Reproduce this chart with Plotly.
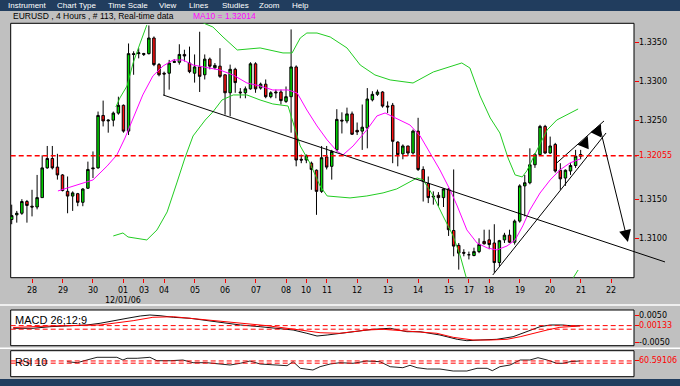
import plotly.graph_objects as go

# ---------------- data ----------------
candle_index = list(range(113))
candle_open = [1.3124,1.3130,1.3132,1.3147,1.3141,1.3140,1.3152,1.3190,1.3202,1.3191,
               1.3181,1.3160,1.3154,1.3157,1.3146,1.3164,1.3190,1.3190,1.3257,1.3250,
               1.3251,1.3260,1.3270,1.3237,1.3336,1.3336,1.3335,1.3336,1.3356,1.3322,
               1.3311,1.3311,1.3326,1.3325,1.3335,1.3324,1.3311,1.3319,1.3309,1.3329,
               1.3318,1.3320,1.3309,1.3286,1.3316,1.3287,1.3286,1.3291,1.3323,1.3292,
               1.3297,1.3281,1.3287,1.3287,1.3275,1.3281,1.3319,1.3201,1.3200,1.3196,
               1.3187,1.3160,1.3204,1.3192,1.3213,1.3251,1.3250,1.3259,1.3238,1.3237,
               1.3241,1.3277,1.3284,1.3287,1.3269,1.3270,1.3223,1.3208,1.3218,1.3209,
               1.3237,1.3188,1.3170,1.3154,1.3155,1.3152,1.3163,1.3110,1.3091,1.3082,
               1.3079,1.3078,1.3083,1.3096,1.3098,1.3094,1.3069,1.3098,1.3104,1.3095,
               1.3122,1.3167,1.3171,1.3194,1.3207,1.3243,1.3209,1.3220,1.3187,1.3177,
               1.3186,1.3193,1.3205]
candle_high = [1.3143,1.3135,1.3150,1.3149,1.3162,1.3181,1.3206,1.3218,1.3218,1.3208,
               1.3182,1.3179,1.3160,1.3158,1.3164,1.3198,1.3211,1.3262,1.3276,1.3252,
               1.3262,1.3281,1.3271,1.3349,1.3339,1.3343,1.3337,1.3372,1.3358,1.3324,
               1.3313,1.3328,1.3329,1.3348,1.3341,1.3345,1.3335,1.3364,1.3335,1.3331,
               1.3324,1.3343,1.3309,1.3322,1.3318,1.3292,1.3294,1.3325,1.3325,1.3299,
               1.3303,1.3288,1.3290,1.3290,1.3294,1.3367,1.3321,1.3207,1.3207,1.3198,
               1.3188,1.3218,1.3218,1.3213,1.3265,1.3261,1.3267,1.3262,1.3248,1.3271,
               1.3292,1.3288,1.3290,1.3288,1.3275,1.3273,1.3224,1.3220,1.3218,1.3239,
               1.3254,1.3192,1.3179,1.3160,1.3159,1.3164,1.3164,1.3188,1.3094,1.3086,
               1.3083,1.3088,1.3100,1.3111,1.3111,1.3118,1.3098,1.3107,1.3111,1.3124,
               1.3169,1.3181,1.3215,1.3209,1.3245,1.3245,1.3230,1.3222,1.3196,1.3188,
               1.3196,1.3213,1.3213]
candle_low = [1.3118,1.3120,1.3130,1.3120,1.3128,1.3137,1.3152,1.3189,1.3188,1.3175,
              1.3160,1.3132,1.3135,1.3141,1.3141,1.3163,1.3177,1.3189,1.3243,1.3235,
              1.3243,1.3258,1.3235,1.3232,1.3309,1.3330,1.3333,1.3335,1.3320,1.3307,
              1.3283,1.3290,1.3324,1.3322,1.3326,1.3311,1.3299,1.3287,1.3303,1.3316,
              1.3316,1.3305,1.3258,1.3256,1.3286,1.3279,1.3279,1.3290,1.3286,1.3290,
              1.3279,1.3279,1.3279,1.3271,1.3273,1.3235,1.3192,1.3196,1.3196,1.3162,
              1.3130,1.3158,1.3188,1.3175,1.3211,1.3234,1.3247,1.3232,1.3232,1.3213,
              1.3215,1.3275,1.3282,1.3267,1.3260,1.3196,1.3192,1.3201,1.3205,1.3207,
              1.3186,1.3147,1.3145,1.3143,1.3141,1.3140,1.3103,1.3077,1.3060,1.3077,
              1.3073,1.3077,1.3081,1.3092,1.3086,1.3056,1.3064,1.3094,1.3094,1.3092,
              1.3120,1.3128,1.3169,1.3190,1.3206,1.3208,1.3208,1.3184,1.3162,1.3167,
              1.3181,1.3190,1.3201]
candle_close = [1.3129,1.3132,1.3147,1.3142,1.3140,1.3152,1.3190,1.3202,1.3190,1.3181,
                1.3161,1.3154,1.3158,1.3146,1.3163,1.3188,1.3189,1.3257,1.3250,1.3251,
                1.3260,1.3270,1.3237,1.3336,1.3335,1.3337,1.3336,1.3356,1.3322,1.3309,
                1.3310,1.3324,1.3325,1.3335,1.3333,1.3313,1.3319,1.3307,1.3329,1.3320,
                1.3321,1.3307,1.3286,1.3316,1.3299,1.3286,1.3291,1.3323,1.3291,1.3297,
                1.3281,1.3286,1.3286,1.3276,1.3281,1.3319,1.3200,1.3200,1.3206,1.3188,
                1.3160,1.3203,1.3191,1.3211,1.3252,1.3250,1.3259,1.3233,1.3236,1.3242,
                1.3278,1.3284,1.3287,1.3269,1.3268,1.3224,1.3207,1.3218,1.3209,1.3237,
                1.3188,1.3173,1.3152,1.3153,1.3152,1.3163,1.3111,1.3090,1.3081,1.3081,
                1.3079,1.3083,1.3092,1.3093,1.3092,1.3069,1.3097,1.3104,1.3095,1.3122,
                1.3167,1.3171,1.3194,1.3207,1.3243,1.3209,1.3218,1.3186,1.3176,1.3187,
                1.3193,1.3205,1.3207]

day_tick_index = [4, 10, 16, 22, 26, 30, 36, 42, 48, 54, 58, 62, 68, 74, 80, 86, 90, 94, 100, 106, 112, 118]
day_tick_label = ["28", "29", "30", "01", "03", "04", "05", "06", "07", "08", "10", "11",
                  "12", "13", "14", "15", "17", "18", "19", "20", "21", "22"]
date_label_index = 22
date_label = "12/01/06"

ma_index = [9.1, 12.9, 16.0, 18.8, 20.7, 22.3, 23.9, 25.8, 27.8, 29.8, 31.8, 33.7, 35.7, 37.7, 41.0,
            43.6, 46.3, 48.9, 51.4, 54.4, 56.2, 58.1, 60.1, 62.1, 64.0, 65.2, 67.2, 69.9, 71.9, 73.5,
            75.5, 78.4, 80.4, 82.3, 84.3, 86.3, 87.7, 89.6, 91.6, 93.6, 95.5, 97.5, 99.1, 100.6, 102.0,
            104.0, 106.0, 107.9, 109.9, 111.9]
ma_value = [1.31605, 1.31682, 1.31746, 1.31925, 1.32065, 1.32282, 1.32538, 1.32832, 1.33075, 1.33203,
            1.33279, 1.33279, 1.33215, 1.33190, 1.33151, 1.33087, 1.32985, 1.32947, 1.32896, 1.32896,
            1.32857, 1.32640, 1.32436, 1.32257, 1.32116, 1.32065, 1.32180, 1.32385, 1.32564, 1.32602,
            1.32538, 1.32448, 1.32308, 1.32091, 1.31873, 1.31618, 1.31413, 1.31107, 1.30940, 1.30877,
            1.30851, 1.30902, 1.30979, 1.31158, 1.31362, 1.31579, 1.31746, 1.31873, 1.31963, 1.32014]

bb_upper_index = [20.5, 21.3, 22.7, 23.9, 25.3, 26.6, None, 37.7, 39.6, 41.6, 44.4, 48.9, 53.4, 55.2,
                  56.8, 58.1, 60.1, 62.7, 66.0, 68.6, 71.5, 74.5, 79.0, 83.0, 86.3, 88.6, 90.2, 92.2,
                  94.2, 96.1, 97.7, 99.1, 100.5, 101.4, 103.4, 105.4, 107.3, 109.3, 111.5]
bb_upper_value = [1.32679, 1.32794, 1.32947, 1.33241, 1.33497, 1.33727, None, 1.33752, 1.33701, 1.33573,
                  1.33407, 1.33433, 1.33369, 1.33369, 1.33560, 1.33624, 1.33624, 1.33573, 1.33433,
                  1.33215, 1.33088, 1.33024, 1.32985, 1.33126, 1.33190, 1.33241, 1.33177, 1.32819,
                  1.32538, 1.32346, 1.32027, 1.31810, 1.31784, 1.31861, 1.32129, 1.32385, 1.32512,
                  1.32576, 1.32653]
bb_lower_index = [20.0, 21.9, 22.9, 26.6, 28.6, 30.6, 32.5, 34.1, 35.7, 38.1, 39.6, 41.4, 43.6, 46.3,
                  48.9, 51.4, 54.4, 55.4, 56.8, 58.7, 60.7, 62.1, 66.6, 69.9, 73.1, 75.8, 78.4, 79.8,
                  81.0, 83.0, 84.9, 86.9, 88.3, 89.6, None, 110.2, 111.5]
bb_lower_value = [1.31030, 1.31068, 1.31017, 1.30979, 1.31107, 1.31337, 1.31707, 1.32027, 1.32308,
                  1.32512, 1.32615, 1.32768, 1.32832, 1.32832, 1.32768, 1.32717, 1.32691, 1.32474,
                  1.32180, 1.31963, 1.31669, 1.31541, 1.31516, 1.31541, 1.31580, 1.31631, 1.31720,
                  1.31771, 1.31746, 1.31541, 1.31286, 1.31030, 1.30774, 1.30468, None, 1.30460, 1.30595]

macd_index = [0.3, 4.2, 7.5, 10.9, 14.8, 17.4, 19.4, 22.7, 25.3, 27.2, 29.2, 31.8, 35.1, 38.4, 42.4,
              45.0, 48.9, 52.8, 55.4, 58.1, 60.1, 62.1, 64.6, 68.0, 71.1, 74.5, 77.8, 80.4, 84.3, 87.7,
              89.6, 92.2, 95.5, 98.7, 101.4, 104.0, 106.0, 108.5, 110.5, 111.9]
macd_value = [0.00033, 0.00033, 0.00093, 0.00119, 0.00156, 0.00219, 0.00278, 0.00404, 0.00489, 0.00526,
              0.00500, 0.00441, 0.00404, 0.00315, 0.00219, 0.00156, 0.00093, 0.00033, -0.00030, -0.00152,
              -0.00252, -0.00215, -0.00152, -0.00093, -0.00004, 0.00033, -0.00093, -0.00093, -0.00215,
              -0.00374, -0.00426, -0.00400, -0.00374, -0.00278, -0.00093, 0.00093, 0.00156, 0.00156,
              0.00119, 0.00133]
signal_index = [0.3, 7.5, 17.4, 23.9, 27.8, 31.8, 37.1, 43.6, 50.3, 56.8, 60.7, 64.6, 69.9, 73.1, 76.4,
                80.4, 83.7, 86.9, 90.8, 94.2, 97.5, 100.1, 102.6, 105.4, 107.9, 110.5, 111.9]
signal_value = [0.00063, 0.00119, 0.00156, 0.00315, 0.00441, 0.00463, 0.00367, 0.00241, 0.00130,
                -0.00030, -0.00130, -0.00152, -0.00030, -0.00004, -0.00056, -0.00093, -0.00152,
                -0.00300, -0.00400, -0.00400, -0.00374, -0.00278, -0.00152, -0.00030, 0.00070,
                0.00119, 0.00119]

rsi_index = [10.9, 12.9, 14.8, 16.8, 20.7, 21.9, 22.7, 24.7, 27.2, 28.6, 31.2, 33.7, 35.7, 38.4, 41.0,
             43.0, 45.0, 46.9, 48.9, 51.4, 54.2, 55.4, 56.8, 59.3, 60.7, 62.7, 64.6, 67.2, 69.9, 72.5,
             74.5, 77.0, 78.4, 79.8, 81.8, 84.3, 86.9, 89.6, 91.6, 93.6, 94.6, 96.1, 98.1, 100.1, 102.0,
             103.6, 105.4, 107.3, 108.5, 109.9, 111.9]
rsi_value = [57.7, 53.8, 64.2, 74.6, 74.6, 64.2, 70.8, 70.8, 74.6, 61.5, 61.5, 64.2, 53.8, 53.8, 48.8,
             45.0, 51.5, 60.4, 48.8, 45.0, 42.3, 57.7, 32.3, 25.8, 38.5, 48.8, 53.8, 51.5, 60.4, 57.7,
             38.5, 34.6, 43.8, 34.6, 29.6, 29.6, 21.9, 21.9, 32.3, 32.3, 23.1, 38.5, 45.0, 64.2, 64.2,
             73.1, 64.2, 51.5, 51.5, 57.7, 60.6]

price_tick_values = [1.3100, 1.3150, 1.32055, 1.3250, 1.3300, 1.3350]
price_tick_labels = ["1.3100", "1.3150", "1.32055", "1.3250", "1.3300", "1.3350"]
last_price_level = 1.32055
macd_tick_values = [0.0050, 0.00133, -0.0050]
macd_tick_labels = ["0.0050", "0.00133", "-0.0050"]
macd_levels = [0.00133, 0.0]
rsi_tick_values = [60.59106]
rsi_tick_labels = ["60.59106"]
rsi_levels = [60.59106, 52.0]

# user-drawn studies (candle index, price)
trend_down_index = [29.8, 128.6]
trend_down_price = [1.32832, 1.30698]
trend_up_index = [94.7, 117.0]
trend_up_price = [1.30531, 1.32346]
channel_index = [107.3, 116.6]
channel_price = [1.31963, 1.32500]
projection_from = (115.8, 1.32410)
projection_to = (121.3, 1.30953)
small_arrows = [((112.5, 1.32167), (113.4, 1.32308)), ((115.0, 1.32321), (116.0, 1.32461))]

menu_items = ["Instrument", "Chart Type", "Time Scale", "View", "Lines", "Studies", "Zoom", "Help"]
menu_x_px = [7, 56, 107, 158, 188, 221, 258, 291]

# ---------------- geometry / calibration ----------------
W, H = 680, 386
def fx(px): return px / W
def fy(py): return 1 - py / H

X0_PX, X_STEP = 11.7, 5.08          # centre of candle 0, px per candle
def idx_at(px): return (px - X0_PX) / X_STEP
def price_at(py): return 1.3350 + (py - 42.7) * (1.3100 - 1.3350) / (238.3 - 42.7)
def macd_at(py): return 0.0050 + (py - 315.7) * (-0.0100) / (342.7 - 315.7)

ML, MR = 10.7, 634.0
MAIN_T, MAIN_B = 23.3, 277.7
MACD_T, MACD_B = 310.0, 345.7
RSI_T, RSI_B = 350.7, 376.7
LABEL_X = 637.5

FONT = "Liberation Sans, Arial, sans-serif"
TICKFONT = "DejaVu Sans, sans-serif"
RED = "#ff0000"

fig = go.Figure()

fig.add_trace(go.Candlestick(
    x=candle_index, open=candle_open, high=candle_high, low=candle_low, close=candle_close,
    increasing=dict(line=dict(color="black", width=1), fillcolor="#00dd00"),
    decreasing=dict(line=dict(color="black", width=1), fillcolor="#ff1010"),
    whiskerwidth=0, xaxis="x", yaxis="y", hoverinfo="skip"))
fig.add_trace(go.Scatter(x=bb_upper_index, y=bb_upper_value, mode="lines",
                         line=dict(color="#22cc22", width=1), xaxis="x", yaxis="y", connectgaps=False))
fig.add_trace(go.Scatter(x=bb_lower_index, y=bb_lower_value, mode="lines",
                         line=dict(color="#22cc22", width=1), xaxis="x", yaxis="y", connectgaps=False))
fig.add_trace(go.Scatter(x=ma_index, y=ma_value, mode="lines",
                         line=dict(color="#ff00ff", width=1), xaxis="x", yaxis="y"))

fig.add_trace(go.Scatter(x=macd_index, y=macd_value, mode="lines",
                         line=dict(color="#111111", width=1), xaxis="x2", yaxis="y2"))
fig.add_trace(go.Scatter(x=signal_index, y=signal_value, mode="lines",
                         line=dict(color="#ff0000", width=1), xaxis="x2", yaxis="y2"))
fig.add_trace(go.Scatter(x=rsi_index, y=rsi_value, mode="lines",
                         line=dict(color="#222222", width=1), xaxis="x3", yaxis="y3"))

# trendlines on a full-window overlay so they may run past the chart frame
for xs, ys in [(trend_down_index, trend_down_price), (trend_up_index, trend_up_price),
               (channel_index, channel_price)]:
    fig.add_trace(go.Scatter(x=xs, y=ys, mode="lines", line=dict(color="black", width=1),
                             xaxis="x4", yaxis="y4"))

shapes = []
# chrome
shapes.append(dict(type="rect", xref="paper", yref="paper", x0=0, x1=1, y0=fy(11), y1=1,
                   fillcolor="#213d5e", line=dict(width=0), layer="below"))
shapes.append(dict(type="rect", xref="paper", yref="paper", x0=0, x1=1, y0=0, y1=fy(379),
                   fillcolor="#213d5e", line=dict(width=0), layer="below"))
for yy in (305.0, 348.3):
    shapes.append(dict(type="line", xref="paper", yref="paper", x0=0, x1=1, y0=fy(yy), y1=fy(yy),
                       line=dict(color="white", width=1.5), layer="below"))
for t, b in ((MAIN_T, MAIN_B), (MACD_T, MACD_B), (RSI_T, RSI_B)):
    shapes.append(dict(type="rect", xref="paper", yref="paper", x0=fx(ML), x1=fx(MR), y0=fy(b), y1=fy(t),
                       fillcolor="white", line=dict(color="black", width=1), layer="below"))
# level lines
shapes.append(dict(type="line", xref="paper", yref="y", x0=fx(ML), x1=fx(MR + 3),
                   y0=last_price_level, y1=last_price_level,
                   line=dict(color=RED, width=1.5, dash="5px,3px")))
for lv in macd_levels:
    shapes.append(dict(type="line", xref="paper", yref="y2", x0=fx(ML), x1=fx(MR), y0=lv, y1=lv,
                       line=dict(color=RED, width=1, dash="5px,3px")))
for lv in rsi_levels:
    shapes.append(dict(type="line", xref="paper", yref="y3", x0=fx(ML), x1=fx(MR), y0=lv, y1=lv,
                       line=dict(color=RED, width=1, dash="5px,3px")))

annotations = []
def label(text, x, y, xref="paper", yref="paper", size=8, color="black", family=FONT, xanchor="left"):
    annotations.append(dict(text=text, x=x, y=y, xref=xref, yref=yref, xanchor=xanchor,
                            yanchor="middle", showarrow=False, borderpad=0,
                            font=dict(family=family, size=size, color=color)))

for name, mx in zip(menu_items, menu_x_px):
    label(name, fx(mx), fy(5.8), size=8, color="white")
label("EURUSD , 4 Hours , # 113, Real-time data", fx(12), fy(16), size=8.5)
label("MA10 = 1.32014", fx(192), fy(16), size=8.5, color="#ff00ff")
label("MACD 26;12;9", fx(14), fy(320), size=11)
label("RSI 10", fx(14), fy(361.5), size=10.5)

# axis value labels
for v, t in zip(price_tick_values, price_tick_labels):
    label(t, fx(LABEL_X), v, yref="y", size=8, family=TICKFONT,
          color=RED if v == last_price_level else "black")
for v, t in zip(macd_tick_values, macd_tick_labels):
    label(t, fx(LABEL_X), v, yref="y2", size=8, family=TICKFONT,
          color=RED if v in macd_levels else "black")
for v, t in zip(rsi_tick_values, rsi_tick_labels):
    label(t, fx(LABEL_X), v, yref="y3", size=8, family=TICKFONT, color=RED)
for i, t in zip(day_tick_index, day_tick_label):
    label(t, i, fy(290), xref="x", size=8, family=TICKFONT, xanchor="center")
label(date_label, date_label_index, fy(300.5), xref="x", size=8, family=TICKFONT, xanchor="center")

# drawn arrows
annotations.append(dict(text="", x=projection_to[0], y=projection_to[1], xref="x4", yref="y4",
                        ax=projection_from[0], ay=projection_from[1], axref="x4", ayref="y4",
                        showarrow=True, arrowhead=2, arrowsize=2.4, arrowwidth=1, arrowcolor="black"))
for (a, b) in small_arrows:
    annotations.append(dict(text="", x=b[0], y=b[1], xref="x4", yref="y4",
                            ax=a[0], ay=a[1], axref="x4", ayref="y4",
                            showarrow=True, arrowhead=2, arrowsize=2.4, arrowwidth=1, arrowcolor="black"))

xr = [idx_at(ML), idx_at(MR)]
common_x = dict(range=xr, domain=[fx(ML), fx(MR)], showgrid=False, zeroline=False, showline=False,
                fixedrange=True, automargin=False)
common_y = dict(side="right", showgrid=False, zeroline=False, showline=False, showticklabels=False,
                ticks="outside", ticklen=4, tickcolor=RED, tickmode="array",
                fixedrange=True, automargin=False)

fig.update_layout(
    width=W, height=H, autosize=False, margin=dict(l=0, r=0, t=0, b=0),
    paper_bgcolor="#c0c0c0", plot_bgcolor="rgba(0,0,0,0)", showlegend=False,
    template="none",
    xaxis=dict(**common_x, anchor="y", rangeslider=dict(visible=False),
               tickmode="array", tickvals=day_tick_index, showticklabels=False,
               ticks="outside", ticklen=4, tickcolor=RED, tickwidth=1),
    yaxis=dict(**common_y, domain=[fy(MAIN_B), fy(MAIN_T)], range=[price_at(MAIN_B), price_at(MAIN_T)],
               anchor="x", tickvals=price_tick_values),
    xaxis2=dict(**common_x, anchor="y2", showticklabels=False, ticks=""),
    yaxis2=dict(**common_y, domain=[fy(MACD_B), fy(MACD_T)], range=[macd_at(MACD_B), macd_at(MACD_T)],
                anchor="x2", tickvals=macd_tick_values),
    xaxis3=dict(**common_x, anchor="y3", showticklabels=False, ticks=""),
    yaxis3=dict(**common_y, domain=[fy(RSI_B), fy(RSI_T)], range=[0, 100],
                anchor="x3", tickvals=rsi_tick_values),
    xaxis4=dict(domain=[0, 1], range=[idx_at(0), idx_at(W)], visible=False, anchor="y4", fixedrange=True),
    yaxis4=dict(domain=[0, 1], range=[price_at(H), price_at(0)], visible=False, anchor="x4", fixedrange=True),
    shapes=shapes, annotations=annotations,
)

fig.write_html("out.html", config={"displayModeBar": False},
               post_script="document.body.style.margin='0px';")
